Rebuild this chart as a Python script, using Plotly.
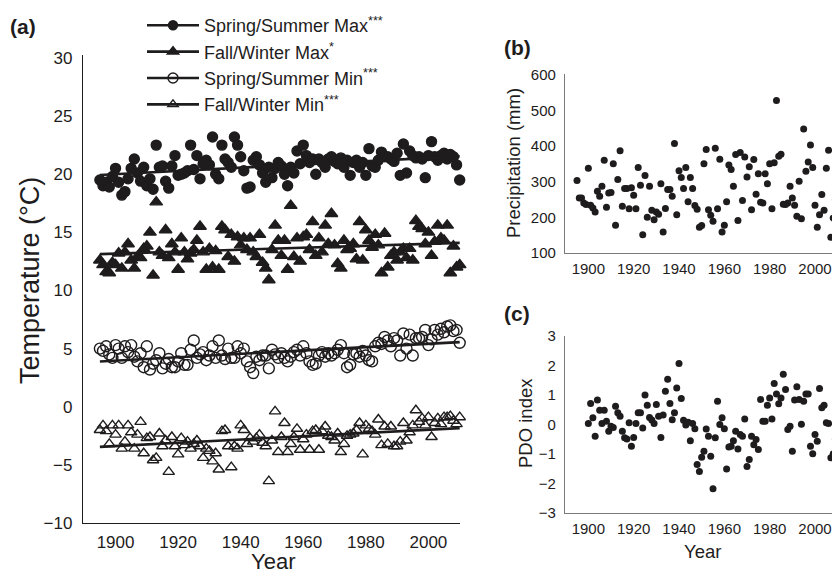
import numpy as np
import plotly.graph_objects as go

# ---------------- data ----------------
years_a = list(range(1895, 2011))

ss_max = [19.5, 19.0, 19.3, 18.9, 19.8, 20.5, 19.3, 18.2, 18.5, 19.6,
          20.5, 21.3, 20.1, 19.4, 20.6, 19.0, 19.6, 18.7, 22.5, 20.6,
          20.7, 19.4, 18.8, 20.7, 21.6, 19.9, 20.0, 20.1, 20.3, 22.5,
          20.4, 21.6, 19.6, 20.9, 21.2, 20.8, 23.2, 20.0, 19.6, 22.5,
          21.3, 21.0, 20.6, 23.2, 22.5, 21.5, 20.3, 18.8, 18.9, 21.2,
          21.5, 20.8, 20.1, 19.3, 20.6, 19.7, 20.5, 21.0, 20.7, 20.0,
          19.0, 20.6, 20.1, 22.0, 20.9, 22.5, 21.6, 21.0, 21.3, 20.0,
          21.3, 21.0, 20.6, 21.3, 21.5, 21.1, 20.9, 21.4, 20.6, 21.2,
          19.9, 21.0, 21.2, 20.6, 21.0, 19.9, 22.2, 20.7, 20.6, 21.2,
          21.9, 21.5, 21.5, 21.3, 21.1, 21.8, 19.9, 22.6, 20.1, 22.0,
          21.6, 21.4, 21.5, 21.3, 19.7, 21.6, 22.8, 21.5, 21.2, 21.6,
          21.8, 21.3, 21.7, 21.5, 20.8, 19.5]

fw_max = [12.6, 12.2, 11.6, 11.5, 12.4, 12.2, 13.2, 11.9, 13.3, 14.0,
          12.6, 11.9, 12.9, 12.8, 13.6, 13.8, 15.0, 11.3, 17.6, 13.3,
          13.0, 15.2, 12.8, 14.0, 13.3, 11.8, 14.5, 13.3, 12.7, 13.2,
          13.5, 14.3, 15.5, 13.3, 11.8, 13.6, 12.0, 13.4, 11.8, 15.5,
          15.2, 12.9, 14.8, 12.5, 14.6, 13.9, 14.5, 13.5, 14.5, 13.3,
          12.9, 14.8, 12.4, 11.9, 10.9, 13.5, 15.6, 14.3, 13.0, 14.3,
          11.8, 17.3, 12.9, 14.5, 12.5, 14.6, 14.8, 13.5, 15.9, 13.0,
          14.5, 13.3, 15.6, 14.0, 16.6, 13.9, 12.3, 11.9, 14.3, 13.5,
          13.6, 14.0, 12.7, 15.9, 12.6, 15.2, 14.3, 13.7, 14.8, 13.9,
          11.5, 14.9, 12.0, 13.0, 13.3, 12.6, 13.3, 13.6, 12.8, 13.6,
          12.6, 16.0, 15.5, 15.3, 14.0, 15.0, 13.0, 14.2, 15.6, 14.5,
          14.3, 15.6, 11.5, 13.8, 12.0, 12.2]

ss_min = [5.0, 4.8, 5.2, 4.5, 4.2, 5.3, 5.0, 4.2, 5.2, 4.7,
          5.3, 4.3, 3.9, 4.6, 3.4, 5.2, 3.2, 3.7, 4.0, 4.6,
          3.3, 3.7, 4.1, 3.4, 3.4, 3.9, 4.6, 3.6, 3.6, 4.9,
          5.7, 4.2, 4.5, 4.7, 4.0, 4.4, 5.2, 4.2, 5.7, 4.4,
          4.1, 5.0, 4.2, 4.2, 5.2, 4.6, 5.0, 3.9, 3.4, 2.9,
          4.3, 4.0, 4.4, 4.4, 3.3, 4.9, 4.5, 4.2, 4.6, 4.2,
          3.9, 4.3, 4.7, 4.9, 4.4, 5.2, 4.6, 3.9, 3.6, 3.7,
          4.4, 4.7, 4.3, 4.6, 4.4, 4.6, 4.9, 5.3, 4.6, 3.4,
          3.6, 4.5, 4.6, 4.3, 4.8, 4.4, 4.0, 3.9, 5.2, 5.5,
          5.4, 6.0, 5.7, 5.2, 5.9, 5.7, 4.4, 6.3, 5.0, 6.2,
          4.4, 5.9, 5.9, 6.0, 6.6, 5.3, 5.8, 6.6, 6.2, 6.7,
          6.4, 6.9, 7.0, 6.5, 6.6, 5.5]

fw_min = [-2.0, -1.6, -2.1, -3.2, -1.6, -2.4, -1.6, -3.6, -3.0, -1.6,
          -2.2, -3.6, -2.4, -1.3, -4.0, -2.7, -2.6, -4.6, -4.4, -2.3,
          -3.4, -2.9, -5.6, -2.6, -3.4, -4.1, -2.7, -3.3, -3.0, -3.6,
          -3.2, -2.9, -3.4, -4.4, -3.6, -3.8, -4.7, -4.0, -5.4, -2.1,
          -2.0, -3.4, -5.2, -3.4, -3.6, -1.6, -2.0, -3.2, -2.7, -3.0,
          -2.7, -2.4, -3.1, -3.4, -6.4, -2.9, -0.4, -3.9, -2.6, -1.4,
          -3.9, -3.2, -2.6, -1.9, -3.7, -2.8, -2.4, -3.7, -2.1, -2.0,
          -3.7, -2.1, -1.7, -2.5, -2.6, -2.9, -2.3, -3.9, -3.2, -2.5,
          -2.4, -2.3, -2.0, -1.4, -4.1, -1.6, -1.9, -2.1, -2.4, -1.1,
          -3.3, -1.7, -3.2, -1.7, -3.4, -3.4, -3.0, -1.4, -2.9, -2.2,
          -1.6, -0.3, -1.3, -1.0, -1.6, -0.9, -2.6, -1.4, -1.0, -1.5,
          -0.9, -0.9, -0.8, -1.2, -1.5, -0.9]

years_b = list(range(1895, 2011))
precip = [303, 254, 254, 240, 236, 338, 234, 226, 215, 273,
          259, 287, 360, 228, 268, 270, 350, 178, 306, 387,
          231, 281, 281, 224, 283, 262, 224, 340, 290, 151,
          317, 200, 287, 220, 193, 215, 209, 294, 159, 225,
          278, 278, 259, 407, 207, 331, 312, 281, 340, 244,
          312, 281, 233, 223, 172, 177, 350, 390, 221, 206,
          189, 394, 224, 363, 159, 178, 244, 347, 334, 287,
          376, 191, 382, 247, 369, 313, 342, 221, 362, 265,
          322, 242, 240, 322, 294, 350, 224, 353, 528, 371,
          377, 237, 236, 240, 287, 254, 234, 203, 301, 196,
          448, 329, 355, 403, 340, 234, 172, 207, 264, 220,
          338, 388, 144, 198, 250, 300]

years_c = list(range(1900, 2011))
pdo = [0.03, 0.71, 0.23, -0.40, 0.83, 0.48, 0.03, 0.48, 0.11, -0.23,
       -0.06, -0.10, 0.62, 0.40, 0.28, -0.23, -0.45, -0.49, 0.06, -0.74,
       -0.44, 0.03, 0.40, 0.40, -0.12, 1.00, 0.65, 0.24, 0.15, 0.03,
       0.68, 0.28, -0.44, 0.32, 1.13, 1.53, 0.71, 0.16, 0.40, 1.24,
       2.07, 0.88, 0.14, -0.02, 0.08, -0.55, 0.03, -0.14, -1.36, -1.59,
       -1.11, -0.91, -0.15, -0.40, -1.08, -2.18, -0.45, 0.79, 0.00, 0.23,
       -0.14, -1.51, -0.76, -0.74, -0.55, -0.23, -0.83, -0.34, -0.40, 0.19,
       -1.42, -1.19, -0.40, -0.69, -0.51, -0.85, 0.85, 0.11, 0.11, 0.65,
       0.90, 0.19, 1.39, 1.03, 0.70, 0.90, 1.70, 1.19, -0.17, -0.06,
       -0.91, 0.83, 1.28, 0.85, 0.01, 0.79, 1.03, 1.03, -0.74, -0.99,
       -0.34, -0.57, 1.22, 0.57, 0.65, 0.06, 0.03, -1.13, -1.00, -0.50,
       0.30]

tick_years = [1900, 1920, 1940, 1960, 1980, 2000]
temp_ticks = [-10, -5, 0, 5, 10, 15, 20, 25, 30]
precip_ticks = [100, 200, 300, 400, 500, 600]
pdo_ticks = [-3, -2, -1, 0, 1, 2, 3]

series_names = ["Spring/Summer Max<sup>***</sup>", "Fall/Winter Max<sup>*</sup>",
                "Spring/Summer Min<sup>***</sup>", "Fall/Winter Min<sup>***</sup>"]

# ---------------- figure ----------------
W, H = 832, 574
FONT = "Liberation Sans, Arial, Helvetica, sans-serif"
INK = "#1e1c1c"

def px_x(p):
    return p / W

def px_y(p):
    return 1 - p / H

fig = go.Figure()

symbols = ["circle", "triangle-up", "circle-open", "triangle-up-open"]
sizes = [10, 11, 11, 10]
data_a = [ss_max, fw_max, ss_min, fw_min]

for name, vals, sym, sz in zip(series_names, data_a, symbols, sizes):
    fig.add_trace(go.Scatter(
        x=years_a, y=vals, mode="markers", showlegend=False,
        marker=dict(symbol=sym, size=sz, color=INK,
                    line=dict(color=INK, width=1.4)),
        xaxis="x", yaxis="y", cliponaxis=False))
    coef = np.polyfit(years_a, vals, 1)
    fx = np.array([years_a[0], years_a[-1]])
    fig.add_trace(go.Scatter(
        x=fx, y=np.polyval(coef, fx), mode="lines", showlegend=False,
        line=dict(color=INK, width=2.6), xaxis="x", yaxis="y"))

# legend entries
for name, sym, sz in zip(series_names, symbols, sizes):
    fig.add_trace(go.Scatter(
        x=[None], y=[None], mode="lines+markers", name=name,
        marker=dict(symbol=sym, size=sz - 1, color=INK,
                    line=dict(color=INK, width=1.4)),
        line=dict(color=INK, width=2.6), xaxis="x", yaxis="y"))

fig.add_trace(go.Scatter(
    x=years_b, y=precip, mode="markers", showlegend=False,
    marker=dict(symbol="circle", size=7, color=INK),
    xaxis="x2", yaxis="y2"))

fig.add_trace(go.Scatter(
    x=years_c, y=pdo, mode="markers", showlegend=False,
    marker=dict(symbol="circle", size=7, color=INK),
    xaxis="x3", yaxis="y3"))

axis_common = dict(showgrid=False, zeroline=False, ticks="", showline=True,
                   automargin=False, fixedrange=True)

fig.update_layout(
    template="none",
    width=W, height=H, autosize=False,
    margin=dict(l=0, r=0, t=0, b=0, pad=0, autoexpand=False),
    paper_bgcolor="white", plot_bgcolor="white",
    font=dict(family=FONT, color=INK),
    showlegend=True, hovermode=False,
    legend=dict(x=px_x(142), y=px_y(7), xanchor="left", yanchor="top",
                bgcolor="rgba(0,0,0,0)", borderwidth=0,
                font=dict(size=18, color=INK),
                itemwidth=52, tracegroupgap=0),
    xaxis=dict(domain=[px_x(83), px_x(460)], range=[1889.6, 2010.1],
               tickvals=tick_years, tickfont=dict(size=17),
               linecolor=INK, linewidth=1.3, anchor="y",
               ticklabelstandoff=3, **axis_common),
    yaxis=dict(domain=[px_y(523), px_y(55)], range=[-10, 30.25],
               tickvals=temp_ticks, tickfont=dict(size=17),
               linecolor=INK, linewidth=1.3, anchor="x",
               ticklabelstandoff=6, **axis_common),
    xaxis2=dict(domain=[px_x(565), 1.0], range=[1889.7, 2007.5],
                tickvals=tick_years, tickfont=dict(size=15),
                linecolor="#7a7a7a", linewidth=1.2, anchor="y2",
                ticklabelstandoff=2, **axis_common),
    yaxis2=dict(domain=[px_y(253), px_y(74)], range=[100, 602],
                tickvals=precip_ticks, tickfont=dict(size=15),
                linecolor="#7a7a7a", linewidth=1.2, anchor="x2",
                ticklabelstandoff=5, **axis_common),
    xaxis3=dict(domain=[px_x(565), 1.0], range=[1889.7, 2007.5],
                tickvals=tick_years, tickfont=dict(size=15),
                linecolor="#7a7a7a", linewidth=1.2, anchor="y3",
                ticklabelstandoff=2, **axis_common),
    yaxis3=dict(domain=[px_y(513), px_y(336)], range=[-3, 3],
                tickvals=pdo_ticks, tickfont=dict(size=15),
                linecolor="#7a7a7a", linewidth=1.2, anchor="x3",
                ticklabelstandoff=5, **axis_common),
)

annotations = [
    dict(text="<b>(a)</b>", x=px_x(8), y=px_y(27), xanchor="left", yanchor="middle", font=dict(size=21)),
    dict(text="<b>(b)</b>", x=px_x(502), y=px_y(48), xanchor="left", yanchor="middle", font=dict(size=21)),
    dict(text="<b>(c)</b>", x=px_x(502), y=px_y(314), xanchor="left", yanchor="middle", font=dict(size=21)),
    dict(text="Year", x=px_x(273), y=px_y(561), xanchor="center", yanchor="middle", font=dict(size=22)),
    dict(text="Temperature (°C)", x=px_x(30), y=px_y(281), xanchor="center", yanchor="middle",
         textangle=-90, font=dict(size=27)),
    dict(text="Precipitation (mm)", x=px_x(513), y=px_y(163), xanchor="center", yanchor="middle",
         textangle=-90, font=dict(size=18.5)),
    dict(text="PDO index", x=px_x(525), y=px_y(423), xanchor="center", yanchor="middle",
         textangle=-90, font=dict(size=18.5)),
    dict(text="Year", x=px_x(702), y=px_y(551), xanchor="center", yanchor="middle", font=dict(size=18.5)),
]
for a in annotations:
    a.update(xref="paper", yref="paper", showarrow=False)
    a["font"]["color"] = INK
    a["font"]["family"] = FONT
fig.update_layout(annotations=annotations)

fig.write_html("out.html",
               config={"displayModeBar": False, "responsive": False},
               post_script="document.body.style.margin='0';document.body.style.overflow='hidden';")
